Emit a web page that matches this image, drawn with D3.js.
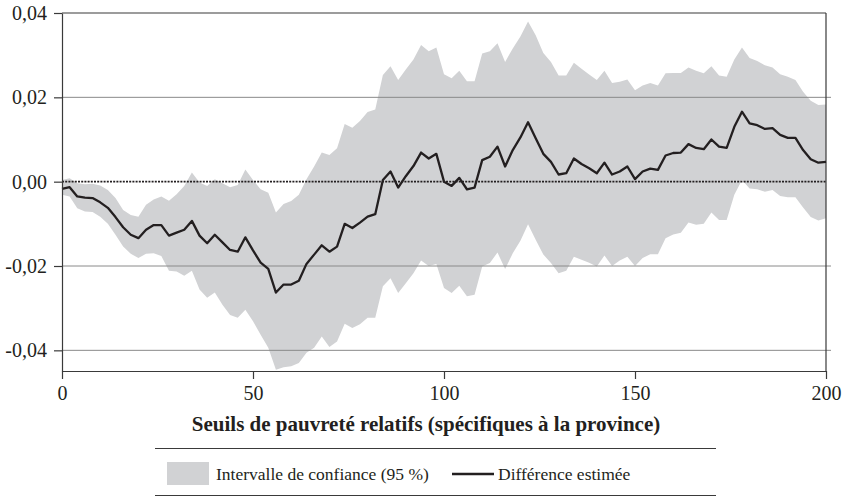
<!DOCTYPE html>
<html>
<head>
<meta charset="utf-8">
<script src="https://cdn.jsdelivr.net/npm/d3@7"></script>
<style>
  body { margin: 0; background: #fff; }
  text { font-family: "Liberation Serif", "Times New Roman", serif; fill: #231f20; }
</style>
</head>
<body>
<svg id="chart" width="847" height="497"></svg>
<script>
// seuils de pauvreté (axe x), pas de 2
var seuils = d3.range(0, 201, 2);

var estimee = [
  -0.0017, -0.0013, -0.0035, -0.0038, -0.0039, -0.0049, -0.0062, -0.0084, -0.0108, -0.0126,
  -0.0134, -0.0114, -0.0103, -0.0103, -0.0128, -0.0121, -0.0114, -0.0093, -0.0128, -0.0146,
  -0.0126, -0.0144, -0.0162, -0.0166, -0.0132, -0.0163, -0.0192, -0.0207, -0.0263, -0.0244,
  -0.0244, -0.0235, -0.0195, -0.0173, -0.0151, -0.0166, -0.0154, -0.0100, -0.0110, -0.0097,
  -0.0083, -0.0077, 0.0004, 0.0024, -0.0014, 0.0013, 0.0037, 0.0069, 0.0055, 0.0066,
  0.0000, -0.0010, 0.0009, -0.0018, -0.0014, 0.0051, 0.0059, 0.0083, 0.0036, 0.0075,
  0.0105, 0.0141, 0.0103, 0.0066, 0.0047, 0.0017, 0.0020, 0.0055, 0.0042, 0.0032,
  0.0020, 0.0045, 0.0017, 0.0024, 0.0036, 0.0006, 0.0024, 0.0031, 0.0028, 0.0062,
  0.0068, 0.0069, 0.0089, 0.0080, 0.0077, 0.0100, 0.0083, 0.0080, 0.0130, 0.0166,
  0.0138, 0.0134, 0.0125, 0.0127, 0.0111, 0.0104, 0.0104, 0.0075, 0.0053, 0.0045,
  0.0047
];

var borneSup = [
  0.0004, 0.0008, -0.0004, -0.0006, -0.0005, -0.0009, -0.0020, -0.0039, -0.0067, -0.0079,
  -0.0083, -0.0055, -0.0042, -0.0035, -0.0045, -0.0030, -0.0010, 0.0022, -0.0002, -0.0010,
  0.0006, -0.0004, -0.0013, -0.0008, 0.0029, 0.0004, -0.0018, -0.0026, -0.0073, -0.0053,
  -0.0046, -0.0031, 0.0006, 0.0036, 0.0069, 0.0063, 0.0079, 0.0137, 0.0128, 0.0144,
  0.0165, 0.0171, 0.0253, 0.0274, 0.0241, 0.0266, 0.0290, 0.0324, 0.0309, 0.0318,
  0.0255, 0.0245, 0.0263, 0.0238, 0.0238, 0.0304, 0.0309, 0.0328, 0.0284, 0.0316,
  0.0344, 0.0380, 0.0347, 0.0305, 0.0284, 0.0252, 0.0252, 0.0282, 0.0268, 0.0254,
  0.0241, 0.0263, 0.0234, 0.0237, 0.0242, 0.0217, 0.0228, 0.0234, 0.0228, 0.0257,
  0.0258, 0.0258, 0.0271, 0.0263, 0.0257, 0.0274, 0.0252, 0.0249, 0.0290, 0.0318,
  0.0293, 0.0286, 0.0276, 0.0271, 0.0255, 0.0249, 0.0241, 0.0213, 0.0192, 0.0182,
  0.0183
];

var borneInf = [
  -0.0031, -0.0035, -0.0063, -0.0071, -0.0072, -0.0083, -0.0100, -0.0126, -0.0154, -0.0171,
  -0.0181, -0.0171, -0.0170, -0.0176, -0.0211, -0.0213, -0.0223, -0.0211, -0.0256, -0.0275,
  -0.0263, -0.0292, -0.0316, -0.0323, -0.0304, -0.0331, -0.0363, -0.0394, -0.0446, -0.0440,
  -0.0438, -0.0430, -0.0406, -0.0394, -0.0367, -0.0392, -0.0379, -0.0337, -0.0347, -0.0338,
  -0.0323, -0.0323, -0.0248, -0.0229, -0.0264, -0.0241, -0.0217, -0.0187, -0.0200, -0.0195,
  -0.0252, -0.0264, -0.0247, -0.0272, -0.0268, -0.0201, -0.0193, -0.0168, -0.0207, -0.0170,
  -0.0140, -0.0101, -0.0138, -0.0173, -0.0193, -0.0217, -0.0211, -0.0178, -0.0185, -0.0192,
  -0.0201, -0.0175, -0.0200, -0.0187, -0.0178, -0.0200, -0.0181, -0.0172, -0.0172, -0.0134,
  -0.0125, -0.0121, -0.0097, -0.0102, -0.0100, -0.0073, -0.0091, -0.0091, -0.0031, 0.0004,
  -0.0016, -0.0018, -0.0024, -0.0020, -0.0034, -0.0037, -0.0037, -0.0061, -0.0084, -0.0092,
  -0.0087
];

var xTicks = [0, 50, 100, 150, 200];
var yTicks = [-0.04, -0.02, 0, 0.02, 0.04];
var gridTicks = [-0.04, -0.02, 0.02];

var titreX = "Seuils de pauvreté relatifs (spécifiques à la province)";
var legendeIC = "Intervalle de confiance (95 %)";
var legendeEst = "Différence estimée";

var data = seuils.map((s, i) => ({x: s, est: estimee[i], lo: borneInf[i], hi: borneSup[i]}));

var svg = d3.select("#chart"),
    margin = {top: 13, left: 62, bottom: 126, right: 21},
    width = +svg.attr("width"),
    height = +svg.attr("height");

var x = d3.scaleLinear()
  .domain([0, 200])
  .range([margin.left, width - margin.right]);
var y = d3.scaleLinear()
  .domain([-0.0449, 0.04])
  .range([height - margin.bottom, margin.top]);

svg.append("clipPath").attr("id", "clip")
  .append("rect")
  .attr("x", x(0)).attr("y", y(0.04))
  .attr("width", x(200) - x(0)).attr("height", y(-0.0449) - y(0.04));

// intervalle de confiance
svg.append("path")
  .datum(data)
  .attr("clip-path", "url(#clip)")
  .attr("fill", "#d1d2d4")
  .attr("d", d3.area().x(d => x(d.x)).y0(d => y(d.lo)).y1(d => y(d.hi)));

// grille
svg.append("g")
  .selectAll("line")
  .data(gridTicks).enter().append("line")
  .attr("x1", x(0)).attr("x2", x(200) + 5)
  .attr("y1", d => y(d)).attr("y2", d => y(d))
  .attr("stroke", "#8a8a8a").attr("stroke-width", 1);

// ligne zéro pointillée
svg.append("line")
  .attr("x1", x(0)).attr("x2", x(200))
  .attr("y1", y(0)).attr("y2", y(0))
  .attr("stroke", "#231f20").attr("stroke-width", 1.6)
  .attr("stroke-dasharray", "2,1.2");

// cadre haut et droit
svg.append("line")
  .attr("x1", x(0)).attr("x2", x(200))
  .attr("y1", y(0.04)).attr("y2", y(0.04))
  .attr("stroke", "#3a3a3a").attr("stroke-width", 1.2);
svg.append("line")
  .attr("x1", x(200)).attr("x2", x(200))
  .attr("y1", y(0.04)).attr("y2", y(-0.0449))
  .attr("stroke", "#3a3a3a").attr("stroke-width", 1.2);

// différence estimée
svg.append("path")
  .datum(data)
  .attr("fill", "none")
  .attr("stroke", "#231f20")
  .attr("stroke-width", 2.3)
  .attr("stroke-linejoin", "round")
  .attr("d", d3.line().x(d => x(d.x)).y(d => y(d.est)));

var fmt = d => d3.format(".2f")(d).replace(".", ",").replace("−", "-");

var xAxis = svg.append("g")
  .attr("transform", `translate(0,${y(-0.0449)})`)
  .call(d3.axisBottom(x).tickValues(xTicks).tickSize(8).tickPadding(7).tickSizeOuter(0));
var yAxis = svg.append("g")
  .attr("transform", `translate(${x(0)},0)`)
  .call(d3.axisLeft(y).tickValues(yTicks).tickFormat(fmt).tickSize(8).tickPadding(7).tickSizeOuter(0));

[xAxis, yAxis].forEach(a => {
  a.attr("font-family", null);
  a.select(".domain").attr("stroke", "#3a3a3a").attr("stroke-width", 1.2);
  a.selectAll(".tick line").attr("stroke", "#3a3a3a").attr("stroke-width", 1.2);
  a.selectAll("text")
    .attr("fill", "#231f20")
    .style("font-family", '"Liberation Serif", serif')
    .style("font-size", "20px");
});

svg.append("text")
  .attr("x", 426)
  .attr("y", 431)
  .attr("text-anchor", "middle")
  .style("font-size", "21px")
  .style("font-weight", "bold")
  .text(titreX);

// légende
var leg = svg.append("g");
leg.append("line")
  .attr("x1", 155).attr("x2", 716).attr("y1", 448.5).attr("y2", 448.5)
  .attr("stroke", "#3a3a3a").attr("stroke-width", 1.2);
leg.append("line")
  .attr("x1", 155).attr("x2", 716).attr("y1", 495.5).attr("y2", 495.5)
  .attr("stroke", "#3a3a3a").attr("stroke-width", 1.2);
leg.append("rect")
  .attr("x", 167).attr("y", 462).attr("width", 42).attr("height", 23)
  .attr("fill", "#d1d2d4");
leg.append("text")
  .attr("x", 216).attr("y", 480)
  .style("font-size", "17.5px")
  .text(legendeIC);
leg.append("line")
  .attr("x1", 452).attr("x2", 494).attr("y1", 474).attr("y2", 474)
  .attr("stroke", "#231f20").attr("stroke-width", 2.3);
leg.append("text")
  .attr("x", 498).attr("y", 480)
  .style("font-size", "17.5px")
  .text(legendeEst);
</script>
</body>
</html>
